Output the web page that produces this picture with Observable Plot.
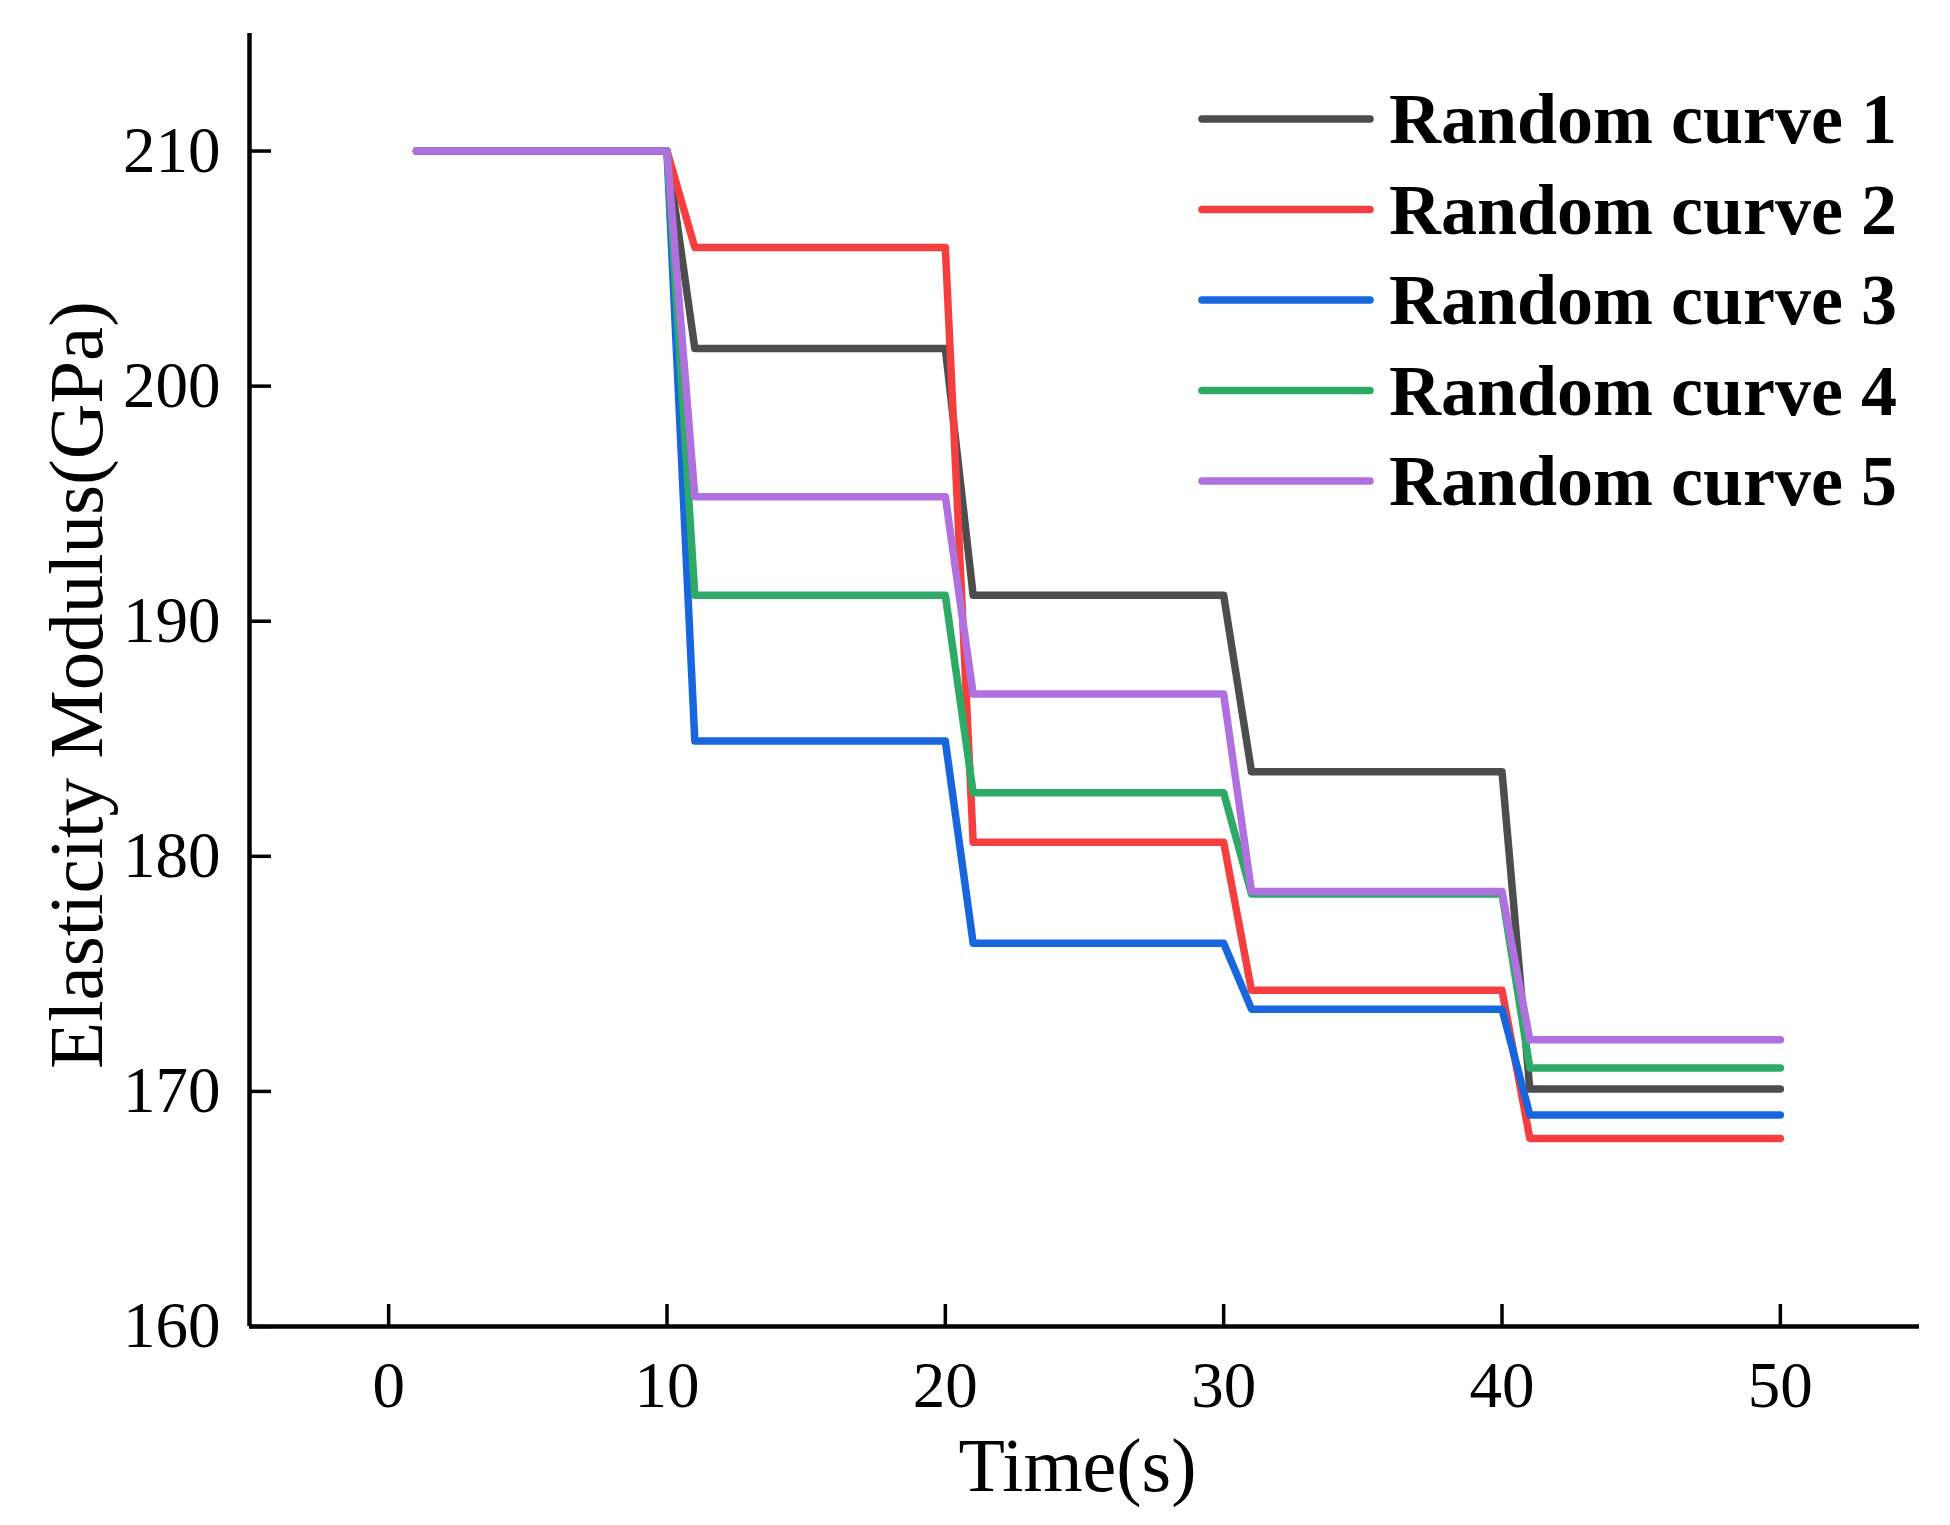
<!DOCTYPE html>
<html>
<head>
<meta charset="utf-8">
<script src="https://cdn.jsdelivr.net/npm/d3@7"></script>
<script src="https://cdn.jsdelivr.net/npm/@observablehq/plot@0.6"></script>
<style>
  body { margin: 0; background: #fff; }
  #chart { position: relative; width: 1950px; height: 1525px; }
  #legend { position: absolute; left: 1190px; top: 60px; }
</style>
</head>
<body>
<div id="chart"></div>
<script>
// tiempos (s) de los puntos de quiebre
const times = [1, 10, 11, 20, 21, 30, 31, 40, 41, 50]

// modulo elastico (GPa)
const curve1 = [210, 210, 201.6, 201.6, 191.1, 191.1, 183.6, 183.6, 170.1, 170.1]
const curve2 = [210, 210, 205.9, 205.9, 180.6, 180.6, 174.3, 174.3, 168.0, 168.0]
const curve3 = [210, 210, 184.9, 184.9, 176.3, 176.3, 173.5, 173.5, 169.0, 169.0]
const curve4 = [210, 210, 191.1, 191.1, 182.7, 182.7, 178.4, 178.4, 171.0, 171.0]
const curve5 = [210, 210, 195.3, 195.3, 186.9, 186.9, 178.5, 178.5, 172.2, 172.2]

const names = ['Random curve 1', 'Random curve 2', 'Random curve 3', 'Random curve 4', 'Random curve 5']
const colors = ['#4d4d4d', '#f53f3f', '#1766de', '#2eaa67', '#b070df']

const xTicks = [0, 10, 20, 30, 40, 50]
const yTicks = [160, 170, 180, 190, 200, 210]

// tabla larga para Plot
const series = [curve1, curve2, curve3, curve4, curve5]
const data = series.flatMap((vals, i) => vals.map((v, j) => ({ t: times[j], v: v, name: names[i] })))

const font = '"Liberation Serif", "Times New Roman", serif'

let chart = Plot.plot({
  width: 1950,
  height: 1525,
  marginLeft: 249,
  marginRight: 31,
  marginTop: 33,
  marginBottom: 199,
  style: { fontFamily: font, color: '#000', background: '#fff', overflow: 'visible' },
  x: { domain: [-5, 55] },
  y: { domain: [160, 215] },
  color: { domain: names, range: colors },
  marks: [
    Plot.axisX({ ticks: xTicks, tickSize: -22, tickPadding: 56, strokeWidth: 3.5, fontSize: 65, label: null }),
    Plot.axisY({ ticks: yTicks, tickSize: -22, tickPadding: 51, strokeWidth: 3.5, fontSize: 65, label: null }),
    Plot.ruleY([160], { strokeWidth: 4.5, stroke: '#000' }),
    Plot.ruleX([-5], { strokeWidth: 4.5, stroke: '#000' }),
    Plot.line(data, {
      x: 't', y: 'v', z: 'name', stroke: 'name',
      strokeWidth: 7.5, strokeLinecap: 'round', strokeLinejoin: 'round'
    }),
    // titulos de ejes
    Plot.text(['Time(s)'], {
      frameAnchor: 'bottom', lineAnchor: 'middle', textAnchor: 'middle',
      dy: 140, dx: -7, fontSize: 76, fill: '#000'
    }),
    Plot.text(['Elasticity Modulus(GPa)'], {
      frameAnchor: 'left', lineAnchor: 'middle', textAnchor: 'middle', rotate: -90,
      dx: -172, dy: 5, fontSize: 77, fill: '#000'
    })
  ]
})

d3.select('#chart').append(() => chart)

// leyenda arriba a la derecha
const legend = d3.select('#chart').append('svg')
  .attr('id', 'legend')
  .attr('width', 760)
  .attr('height', 460)

const rows = legend.selectAll('g')
  .data(names)
  .join('g')
  .attr('transform', (d, i) => `translate(0, ${59 + i * 90.5})`)

rows.append('line')
  .attr('x1', 12).attr('x2', 180)
  .attr('stroke', (d, i) => colors[i])
  .attr('stroke-width', 7.5)
  .attr('stroke-linecap', 'round')

rows.append('text')
  .attr('x', 199)
  .attr('y', 24)
  .attr('font-family', font)
  .attr('font-weight', 'bold')
  .attr('font-size', 72)
  .text(d => d)
</script>
</body>
</html>
